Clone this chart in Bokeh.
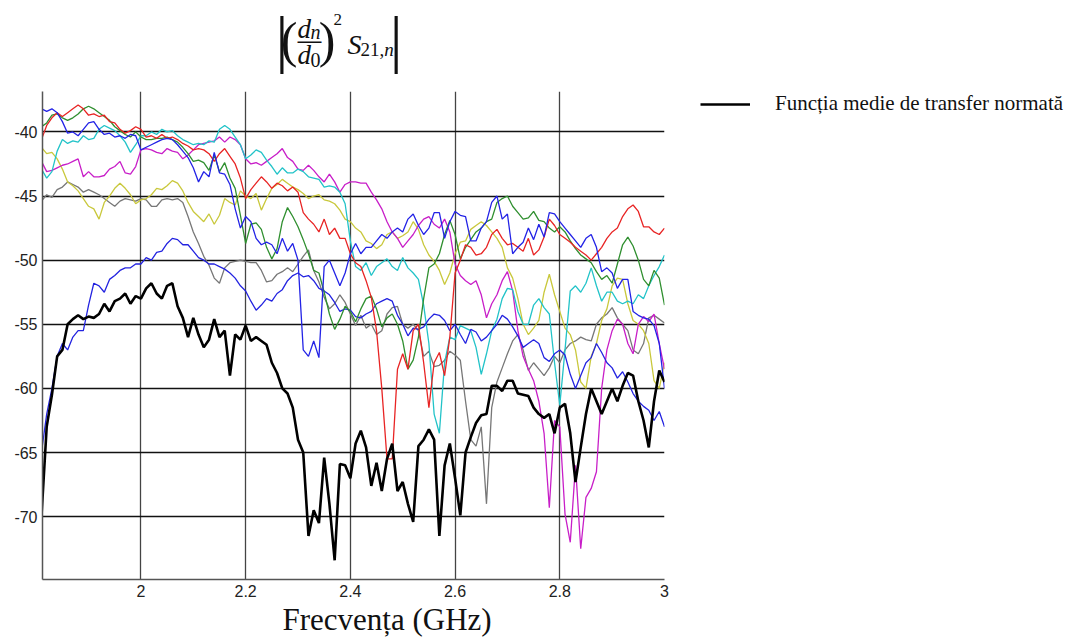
import numpy as np
from bokeh.plotting import figure
from bokeh.layouts import column, row
from bokeh.models import (Range1d, Label, Legend, LegendItem, FixedTicker, Title,
                          CustomJSTickFormatter)
from bokeh.embed import file_html
from bokeh.resources import INLINE

# frequency grid (GHz), 1.81 .. 3.00 step 0.01
freq = np.round(np.arange(1.81, 3.0001, 0.01), 2)

mean_transfer = [
    -70, -63, -60.5, -57.5, -57, -55, -54.6, -54.3, -54.6, -54.4,
    -54.5, -54.2, -53.4, -54, -53.2, -53, -52.6, -53.4, -52.8, -53,
    -52.2, -51.8, -52.6, -53, -52, -51.8, -53.6, -54.5, -56, -54.5,
    -55.8, -56.8, -56.2, -54.6, -56, -55.5, -59, -55.8, -56.2, -55.1,
    -56.3, -56, -56.3, -56.6, -58, -58.8, -60, -60.4, -61.5, -64,
    -65, -71.5, -69.5, -70.5, -65.4, -69, -73.4, -65.9, -66, -67,
    -64.3, -63.3, -64.6, -67.6, -65.8, -68, -65.5, -64.3, -68, -67.3,
    -69, -70.4, -64.5, -64, -63.2, -64, -71.5, -66, -64.3, -67,
    -69.9, -65, -63.8, -62.7, -62.1, -62, -59.8, -59.8, -60.2, -59.4,
    -59.4, -60.4, -60.5, -60.6, -61.5, -62, -62.3, -62, -63.5, -61.5,
    -61.2, -63.5, -67.3, -64.6, -62, -60, -61, -62, -61, -60,
    -61, -59.8, -58.8, -59, -61, -62.5, -64.6, -61, -58.6, -59.5,
]

blue_a = [
    -38.2, -38.4, -38.2, -38.5, -39.2, -40.1, -40, -40.3, -39.8, -39.3,
    -39.2, -39.8, -40.2, -40.1, -40.4, -40.3, -40.5, -40.2, -40.3, -41.4,
    -41.2, -41, -40.8, -40.6, -40.5, -40.6, -41, -41.5, -42, -42.8,
    -43.9, -43.1, -43.5, -41.6, -43.2, -43.3, -44.1, -46, -47.5, -46.6,
    -47, -48.3, -48.8, -48.6, -48.8, -49.5, -48.3, -49.3, -48.7, -50,
    -57, -57.5, -56.3, -57.6, -50.5, -50, -51, -52, -51, -49.5,
    -48.7, -49.5, -49, -49, -48.5, -48, -48.3, -47.8, -47.5, -47.8,
    -46.8, -46.4, -47.3, -48, -47.5, -46.3, -46.3, -48.3, -47, -46.2,
    -46.5, -46.6, -48.5, -48.5, -47.5, -47, -45.5, -45, -46.8, -46.4,
    -49.5, -49, -48.6, -47.5, -48.4, -47.2, -48.2, -46.3, -46.4, -47,
    -47.5, -48, -48.5, -49, -48.3, -48, -49, -50.9, -50.6, -51,
    -52.2, -51.5, -51.5, -54, -54.3, -54.5, -54.6, -55.1, -56.5, -60,
]

blue_b = [
    -65, -62, -60, -57.5, -56.5, -57, -56, -55.5, -55.5, -53.5,
    -51.8, -52, -52.5, -51.5, -51.2, -50.8, -50.6, -50.6, -50.3, -50.3,
    -49.8, -50, -49.4, -49.3, -48.7, -48.3, -48.4, -48.8, -48.8, -49.3,
    -49.8, -50, -50.3, -50.3, -50.5, -50.7, -51, -51.4, -52, -52.4,
    -53.2, -53.9, -53.5, -53, -53.2, -52.6, -52.3, -51.6, -51.2, -51,
    -51.3, -51.2, -51.6, -52.2, -52.4, -52.7, -53.3, -54, -53.8, -53.9,
    -54.4, -54.5, -54.2, -54, -53.4, -53.2, -53, -53.2, -54.3, -55,
    -55.9, -55.3, -55.4, -55.2, -54.6, -54.2, -54.3, -54.7, -55.5, -55,
    -55.8, -56.5, -55.4, -55.6, -56.3, -56, -55.5, -55, -54.3, -54.6,
    -55.2, -55.9, -56.8, -56.5, -56.2, -56.5, -57.6, -57.9, -57.3, -57,
    -57.4, -58.9, -60, -59, -58, -57.6, -56.5, -57.2, -58, -58.4,
    -59.2, -58.7, -59.5, -60.4, -61, -61.4, -61.7, -62.5, -61.8, -63,
]

red = [
    -40.6, -39.5, -38.9, -38.5, -38.8, -38.5, -38.2, -37.9, -38.2, -38.7,
    -38.6, -38.8, -38.7, -39.2, -39.3, -39.8, -40.1, -39.9, -39.6, -39.8,
    -40.4, -40.3, -40.5, -40.2, -40.5, -40.4, -40.6, -40.9, -41.1, -41.4,
    -41.3, -41.4, -41.7, -42.3, -41.7, -41.3, -41.9, -42.5, -43.6, -45.2,
    -44.5, -44, -43.5, -43.9, -44.4, -44, -44.2, -44.6, -44.3, -44.7,
    -46.3, -46.8, -47.2, -47.8, -46.8, -48, -47.5, -48.3, -48.3, -49.5,
    -50.2, -50.5, -51.6, -52.9, -55.5, -60, -65.5, -65.5, -58.5, -57.3,
    -58.5, -55.5, -55, -58, -61.5, -58, -57.2, -59, -56, -51,
    -50, -48.8, -49, -49.6, -49.5, -49, -48, -47.6, -48.3, -48.8,
    -48.7, -49, -49.3, -48.3, -49.6, -49.2, -48.2, -46.8, -47.3, -48,
    -48.3, -48.6, -49, -49.3, -49.6, -50, -49.5, -49, -48.3, -47.8,
    -47.5, -46.6, -46, -45.7, -46.2, -47.4, -47.4, -47.8, -48, -47.5,
]

green = [
    -39.6, -39.3, -38.7, -38.6, -38.9, -39.1, -38.9, -38.6, -38.2, -38,
    -38.2, -38.5, -38.8, -39.1, -39.6, -39.9, -40.2, -40.4, -40, -40.4,
    -40.6, -40.6, -40.5, -40.5, -40.4, -40.6, -40.8, -41.2, -41.7, -42.3,
    -42.2, -42.4, -43, -41.8, -43.1, -42.4, -43.6, -44.4, -46.5, -48.7,
    -47.2, -47.1, -47.6, -49, -49.9, -49.1, -47, -45.9, -46.6, -47.4,
    -48.4, -49.5, -50.8, -51, -52.5, -54.2, -55.4, -54.6, -53.6, -54,
    -54.8, -53.8, -53, -52.8, -53.8, -55.2, -54.5, -54.2, -55, -56.3,
    -58.5, -57.8, -56, -53, -50.6, -50.3, -49.5, -48, -46.9, -48,
    -49.9, -49, -48.4, -47.8, -47.5, -47, -46.8, -45.5, -45.2, -45,
    -45.8, -46.3, -46.8, -46.7, -46.2, -46.9, -47, -47.5, -47.8, -47.4,
    -47.8, -48.5, -49.1, -49.6, -49.9, -50.2, -50.9, -51.5, -51.2, -51.8,
    -50.3, -48.8, -48.2, -48.9, -50, -51.5, -52, -50.8, -51.4, -53.5,
]

cyan = [
    -42.9, -43.6, -43.1, -41.5, -40.6, -40.9, -40.7, -40.8, -40.3, -40.6,
    -40.5, -39.8, -39.5, -39.7, -39.9, -40.3, -40.8, -41.6, -41, -40.3,
    -40.3, -40, -40.2, -39.8, -40, -39.9, -40.3, -40.6, -40.8, -41,
    -40.9, -41, -40.7, -40.8, -39.8, -39.5, -39.8, -40.4, -41, -42.1,
    -41.8, -41.4, -41.6, -42.2, -42.7, -43.3, -42.8, -43.2, -43.2, -42.9,
    -43.1, -43.5, -43.6, -43.7, -44.3, -44.2, -44.3, -44.7, -45.6, -48.5,
    -50.5, -50.8, -50.2, -51.2, -50.5, -50.2, -49.9, -50.5, -50.8, -49.8,
    -50.6, -51, -51.5, -53.5, -56.5, -62, -63.5, -58, -56, -56.2,
    -55.1, -55.3, -55.5, -56.8, -58.9, -57.3, -55.5, -54.6, -53, -52.2,
    -52.3, -54, -55, -55, -53.5, -53, -53.7, -54.2, -58, -61.3,
    -57, -52.4, -52, -52.5, -51.8, -50.6, -52, -53.2, -52.5, -52.5,
    -53.2, -53.4, -53.2, -53.4, -52.7, -53, -52, -51.2, -50.5, -49.6,
]

magenta = [
    -42.3, -43.1, -43, -42.8, -42.6, -42.5, -42.3, -42.1, -43.5, -43.1,
    -43.5, -43.5, -43.4, -42.9, -42.7, -42.3, -43.2, -43.3, -42.7, -41.4,
    -41.3, -41.4, -41.6, -41.7, -41.3, -41.5, -41.6, -42.1, -41.8, -41.4,
    -41, -40.9, -40.8, -40.7, -40.4, -40.8, -40.4, -40.6, -41, -42.1,
    -42.5, -42.4, -42.6, -42.3, -42, -41.7, -41.3, -42, -42.3, -42.9,
    -43, -42.6, -43, -43.5, -43.9, -43.3, -43.9, -44.7, -44.1, -43.9,
    -43.9, -44, -44, -44.7, -45.3, -46, -47, -47.8, -48.3, -49,
    -48.5, -48, -47.3, -46.8, -46.6, -47.2, -47.5, -46.8, -47.8, -50.3,
    -51.2, -51.6, -51.9, -51.6, -52.7, -54.5, -53.4, -52.7, -51.6, -50.9,
    -52.4, -55.5, -57.5, -58.5, -59.4, -61, -63.5, -69.3, -62.5, -63,
    -69.8, -72, -66, -72.5, -68.5, -67.8, -66.5, -60, -57, -55.5,
    -54.6, -55, -56.5, -57.3, -55, -54.4, -54.8, -54.2, -56.5, -58.5,
]

yellow = [
    -41.2, -41.7, -41.6, -42.1, -42.9, -43.9, -44.2, -44.6, -45.2, -45.8,
    -46, -46.8, -45.5, -45, -44.4, -44, -44.4, -44.9, -45.6, -45.3,
    -45.2, -44.9, -44.4, -44.5, -44.2, -43.8, -44, -44.6, -45.5, -46.2,
    -46.6, -47, -46.4, -47.2, -46.5, -45.2, -45.5, -45.7, -44.6, -45,
    -45.2, -44.8, -46.1, -45.2, -44.4, -44.1, -43.7, -44, -44.3, -44.5,
    -44.8, -45.2, -45, -44.9, -45.3, -45.4, -45.6, -46.1, -46.8, -47,
    -47.5, -47.8, -48.5, -48.7, -49.1, -48.8, -48, -47.8, -48.3, -48.1,
    -47.8, -47, -47.6, -48.8, -49.6, -50.1, -50.8, -51.9, -51, -49.5,
    -48.6, -48.5, -47.6, -47.3, -47, -47.3, -47.8, -48.3, -49, -50.6,
    -51.4, -53, -55, -55.8, -55.3, -54.7, -52.5, -51.1, -52.7, -54,
    -55.3, -55.8, -57, -59.5, -60, -57.5, -56.5, -54.7, -53.8, -52,
    -51.4, -51.5, -53.4, -54.7, -55, -55.5, -56.5, -59.4, -60, -58,
]

gray = [
    -45.4, -44.9, -45.1, -44.5, -44.3, -43.9, -44.1, -44.3, -44.7, -44.5,
    -44.7, -44.9, -45.2, -45.5, -45.8, -45.4, -45.2, -45.3, -45.4, -45.2,
    -45.3, -45.8, -45.8, -45.3, -45.2, -45.3, -45.2, -45.5, -46.6, -47.8,
    -48.7, -49.7, -50.4, -51.4, -51.8, -50.6, -50.2, -50.1, -50, -50.1,
    -50.2, -50.2, -50.8, -51.7, -51.6, -51.1, -50.9, -50.6, -50.9, -50.3,
    -49.7, -49.2, -50.8, -51.7, -52.9, -53.8, -53.4, -52.7, -53.3, -54.2,
    -55.1, -54.3, -55.3, -55, -55.8, -55.5, -54.2, -53.7, -53.6, -55,
    -55.3, -55, -55.5, -57.5, -57.1, -58.3, -58.2, -57.8, -57.1, -57.4,
    -57.8, -61, -64, -64.5, -63, -69, -61.5, -59.5, -58.4, -57.3,
    -56.3, -55.8, -57, -58.6, -58, -58.5, -59, -58.4, -57.5, -58,
    -57, -56.5, -56.3, -56, -56.2, -56.3, -55, -54.5, -54.2, -53.7,
    -54.5, -55, -55.5, -57, -57.3, -56.5, -54.5, -54.3, -54.6, -54.9,
]

x_ticks = [2.0, 2.2, 2.4, 2.6, 2.8, 3.0]
y_ticks = [-70, -65, -60, -55, -50, -45, -40]
legend_label = "Funcția medie de transfer normată"
x_title = "Frecvența (GHz)"

W = 1070
TITLE_H = 80
MAIN_H = 560
MAIN_W = 672

# ---------- formula header:  |(d_n / d_0)^2 S_21,n| ----------
t = figure(width=W, height=TITLE_H, output_backend="svg", toolbar_location=None,
           x_range=Range1d(0, W), y_range=Range1d(0, TITLE_H),
           x_axis_type=None, y_axis_type=None, min_border=0)
t.outline_line_color = None
t.grid.visible = False


def lab(x, y, txt, size, italic=False, align="left", font="Liberation Serif", f=0.38):
    # y: wanted baseline height above the header's bottom edge (px);
    # f*size compensates the renderer's baseline placement
    t.add_layout(Label(x=x, y=y + f * size, x_units="screen", y_units="screen",
                       text=txt, text_font=font, text_font_size=f"{size}px",
                       text_font_style="italic" if italic else "normal",
                       text_align=align, text_baseline="alphabetic",
                       text_color="#111111"))


lab(281.3, 22.7, "|", 64, align="center", f=0.3)
lab(395.7, 22.7, "|", 64, align="center", f=0.3)
lab(288.5, 21.8, "(", 50, align="center")
lab(326.7, 21.8, ")", 50, align="center")
lab(309, 31.8, "\u2014", 24, align="center", font="Liberation Sans")
lab(297, 41.5, "d", 27, italic=True)
lab(310, 41, "n", 20, italic=True)
lab(297, 15, "d", 27, italic=True)
lab(310, 13.3, "0", 20)
lab(333, 55, "2", 17)
lab(347, 25, "S", 28, italic=True)
lab(360, 23.3, "21,", 19)
lab(383.8, 23.3, "n", 19, italic=True)

# ---------- main chart ----------
p = figure(width=MAIN_W, height=MAIN_H, output_backend="svg", toolbar_location=None,
           x_range=Range1d(1.812, 3.0), y_range=Range1d(-74.9, -36.85),
           min_border_left=42, min_border_right=8, min_border_top=11,
           min_border_bottom=61)
p.outline_line_color = None

series = [
    (gray, "#777777"),
    (yellow, "#c9c83c"),
    (magenta, "#c81ec8"),
    (cyan, "#22c3c8"),
    (blue_b, "#2323e0"),
    (green, "#2f8f2f"),
    (red, "#e82424"),
    (blue_a, "#2323e6"),
]
for vals, col in series:
    p.line(freq, vals, line_color=col, line_width=1.3)
p.line(freq, mean_transfer, line_color="black", line_width=2.6)

for ax, ticks in ((p.xaxis, x_ticks), (p.yaxis, y_ticks)):
    ax.ticker = FixedTicker(ticks=ticks)
    ax.major_tick_out = 0
    ax.major_tick_in = 0
    ax.minor_tick_out = 0
    ax.minor_tick_in = 0
    ax.axis_line_color = "#555555"
    ax.axis_line_width = 1.5
    ax.major_label_text_font = "Liberation Sans"
    ax.major_label_text_font_size = "16px"
    ax.major_label_text_color = "#222222"
    ax.major_label_standoff = 5
p.xaxis.formatter = CustomJSTickFormatter(code="return String(Math.round(tick*10)/10);")
p.yaxis.formatter = CustomJSTickFormatter(code="return String(tick);")

p.xgrid.grid_line_color = "#444444"
p.xgrid.grid_line_width = 1.3
p.ygrid.grid_line_color = "#111111"
p.ygrid.grid_line_width = 1.3

p.add_layout(Title(text=x_title, align="left", offset=240, standoff=0,
                   text_font="Liberation Serif", text_font_size="31px",
                   text_font_style="normal", text_color="#111111"), "below")

# ---------- legend panel to the right ----------
lg = figure(width=W - MAIN_W, height=MAIN_H, output_backend="svg",
            toolbar_location=None, x_axis_type=None, y_axis_type=None,
            x_range=Range1d(0, 1), y_range=Range1d(0, 1),
            min_border_left=700 - MAIN_W, min_border_right=0,
            min_border_top=6, min_border_bottom=61)
lg.outline_line_color = None
lg.grid.visible = False
# key renderer: same mean curve, lying outside this panel's (0..1) view
r_key = lg.line(freq, mean_transfer, line_color="black", line_width=2.6)
legend = Legend(items=[LegendItem(label=legend_label, renderers=[r_key])],
                location="top_left", glyph_width=50, glyph_height=20,
                label_standoff=25, padding=0, margin=0,
                border_line_color=None, background_fill_alpha=0,
                label_text_font="Liberation Serif", label_text_font_size="21px",
                label_height=20, label_text_color="#111111")
lg.add_layout(legend)

layout = column(t, row(p, lg, spacing=0), spacing=0)
open("out.html", "w").write(file_html(layout, INLINE))
